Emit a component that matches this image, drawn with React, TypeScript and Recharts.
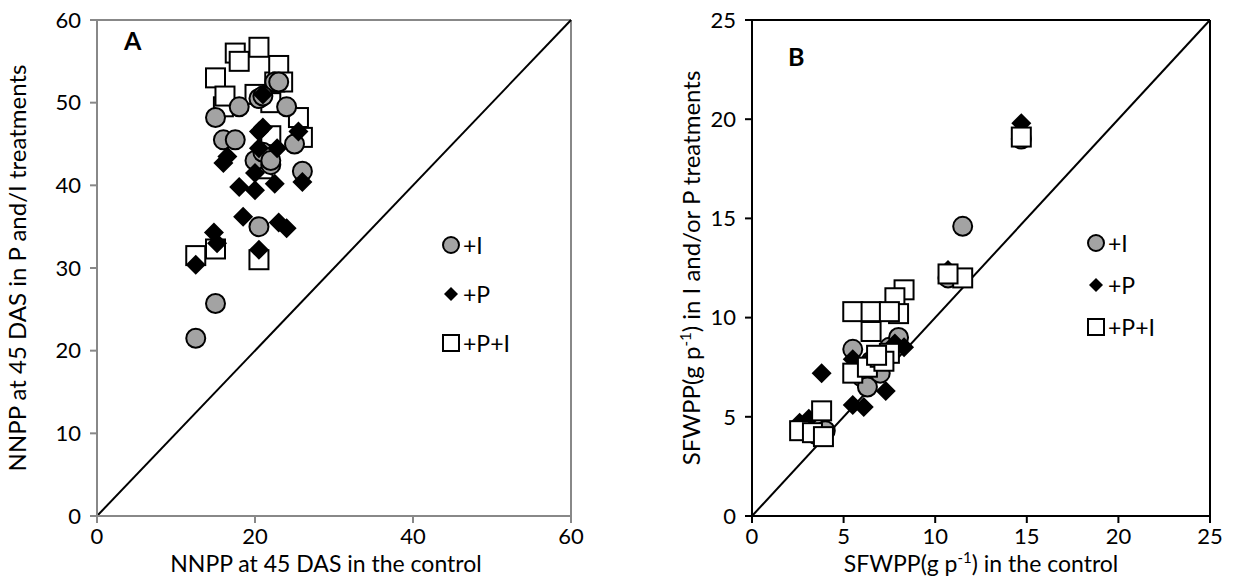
import React from "react";
import {
  ScatterChart,
  Scatter,
  XAxis,
  YAxis,
  ReferenceLine,
  Legend,
} from "recharts";

// ---------- Panel A data (NNPP at 45 DAS) ----------
const aIx = [12.5, 15, 15, 16, 17.5, 18, 20, 20.5, 20.5, 21, 22, 22.5, 23, 24, 25, 26, 21, 22];
const aIy = [21.5, 25.7, 48.2, 45.5, 45.5, 49.5, 43, 35, 50.5, 44, 42.5, 52.5, 52.5, 49.5, 45, 41.7, 50.8, 43];
const aPx = [12.5, 14.8, 15.2, 16, 16.5, 18, 18.5, 20, 20.5, 20.5, 21, 20.5, 22.5, 22.8, 23, 24, 25.5, 26, 21, 20];
const aPy = [30.4, 34.3, 33, 42.7, 43.5, 39.8, 36.2, 39.4, 32.2, 46.5, 51, 44.5, 40.2, 44.5, 35.5, 34.8, 46.5, 40.4, 47, 41.5];
const aPIx = [12.5, 15, 15, 16, 16.2, 17.5, 18, 20, 20.5, 20.5, 21, 22, 22.5, 23, 23.5, 25.5, 26, 22];
const aPIy = [31.5, 32.3, 53, 49.5, 50.8, 56, 55, 51, 56.7, 31, 42, 50, 52.5, 54.5, 52.5, 48.2, 45.8, 46];
const aTicksX = [0, 20, 40, 60];
const aTicksY = [0, 10, 20, 30, 40, 50, 60];

// ---------- Panel B data (SFWPP) ----------
const bIx = [14.7, 11.5, 10.7, 5.5, 6, 6.3, 7, 7.5, 8, 3, 3.5, 4, 6.5];
const bIy = [19, 14.6, 12, 8.4, 7, 6.5, 7.2, 8.5, 9, 4.3, 4.1, 4.3, 7.8];
const bPx = [14.7, 10.7, 11.5, 8.3, 7.3, 6.1, 5.5, 3.8, 2.6, 3.1, 5.5, 7.8, 6.5];
const bPy = [19.8, 12.4, 12, 8.5, 6.3, 5.5, 5.6, 7.2, 4.7, 4.9, 7.9, 8.7, 7.9];
const bPIx = [14.7, 11.5, 10.7, 8.3, 7.8, 8, 5.5, 6.5, 7.5, 6.5, 5.5, 6.3, 7, 7.5, 7.2, 3.8, 2.6, 3.3, 3.9, 6.8];
const bPIy = [19.1, 12, 12.2, 11.4, 11, 10.2, 10.3, 10.3, 10.3, 9.3, 7.2, 7.5, 8, 8.2, 7.8, 5.3, 4.3, 4.2, 4, 8.1];
const bTicks = [0, 5, 10, 15, 20, 25];

const seriesNames = ["+I", "+P", "+P+I"];

const zip = (xs: number[], ys: number[]) => xs.map((x, i) => ({ x, y: ys[i] }));

const FONT = 'Lato, "Open Sans", sans-serif';
const GRAYFILL = "#a3a3a3";
const LABEL_X = 23;
const LABEL_Y = 24;

const CircleShape = (p: any) => (
  <circle cx={p.cx} cy={p.cy} r={9.5} fill={GRAYFILL} stroke="#000" strokeWidth={2} />
);
const DiamondShape = (p: any) => {
  const r = 10;
  return (
    <polygon
      points={`${p.cx},${p.cy - r} ${p.cx + r},${p.cy} ${p.cx},${p.cy + r} ${p.cx - r},${p.cy}`}
      fill="#000"
    />
  );
};
const SquareShape = (p: any) => (
  <rect x={p.cx - 9.5} y={p.cy - 9.5} width={19} height={19} fill="#fff" stroke="#000" strokeWidth={2} />
);

const legendIcon = (i: number) => {
  if (i === 0) return <circle cx={10} cy={10} r={8} fill={GRAYFILL} stroke="#000" strokeWidth={2} />;
  if (i === 1) return <polygon points="10,3 17,10 10,17 3,10" fill="#000" />;
  return <rect x={2} y={2} width={16} height={16} fill="#fff" stroke="#000" strokeWidth={2} />;
};

const makeLegend = (gap: number) => () => (
  <div style={{ fontFamily: FONT, fontSize: 23, color: "#000" }}>
    {seriesNames.map((n, i) => (
      <div key={n} style={{ display: "flex", alignItems: "center", height: gap }}>
        <svg width={20} height={20} style={{ marginRight: 2 }}>
          {legendIcon(i)}
        </svg>
        <span>{n}</span>
      </div>
    ))}
  </div>
);

const tickStyle = { fontFamily: FONT, fontSize: 22, fill: "#000" };

export default function App() {
  const grayAx = "#888888";
  return (
    <div style={{ position: "absolute", left: 0, top: 0, width: 1237, height: 578, background: "#fff" }}>
      {/* Panel A */}
      <div style={{ position: "absolute", left: 0, top: 0 }}>
        <ScatterChart width={620} height={578} margin={{ top: 20, right: 49, bottom: 0, left: 37 }}>
          <XAxis
            type="number"
            dataKey="x"
            domain={[0, 60]}
            ticks={aTicksX}
            allowDataOverflow
            height={62}
            stroke={grayAx}
            strokeWidth={2}
            tickSize={7}
            tickMargin={5}
            tick={tickStyle}
            label={(props: any) => {
              const vb = props.viewBox;
              return (
                <text x={vb.x + vb.width / 2 - 8} y={vb.y + 56} textAnchor="middle" fontFamily={FONT} fontSize={LABEL_X} fill="#000">
                  NNPP at 45 DAS in the control
                </text>
              );
            }}
          />
          <YAxis
            type="number"
            dataKey="y"
            domain={[0, 60]}
            ticks={aTicksY}
            allowDataOverflow
            width={60}
            stroke={grayAx}
            strokeWidth={2}
            tickSize={7}
            tickMargin={9}
            tick={tickStyle}
            label={(props: any) => {
              const vb = props.viewBox;
              const cx = 26;
              const cy = vb.y + vb.height / 2;
              return (
                <text x={cx} y={cy} transform={`rotate(-90 ${cx} ${cy})`} textAnchor="middle" fontFamily={FONT} fontSize={LABEL_Y} fill="#000">
                  NNPP at 45 DAS in P and/I treatments
                </text>
              );
            }}
          />
          <ReferenceLine y={60} stroke={grayAx} strokeWidth={2} />
          <ReferenceLine x={60} stroke={grayAx} strokeWidth={2} />
          <ReferenceLine segment={[{ x: 0, y: 0 }, { x: 60, y: 60 }]} stroke="#000" strokeWidth={2} />
          <Scatter name="+P+I" data={zip(aPIx, aPIy)} shape={SquareShape} isAnimationActive={false} />
          <Scatter name="+I" data={zip(aIx, aIy)} shape={CircleShape} isAnimationActive={false} />
          <Scatter name="+P" data={zip(aPx, aPy)} shape={DiamondShape} isAnimationActive={false} />
          <Legend
            layout="vertical"
            align="center"
            verticalAlign="middle"
            content={makeLegend(49)}
            wrapperStyle={{ left: 441, top: 220, width: 110 }}
          />
        </ScatterChart>
        <div style={{ position: "absolute", left: 124, top: 25, fontFamily: FONT, fontWeight: 700, fontSize: 25 }}>A</div>
      </div>

      {/* Panel B */}
      <div style={{ position: "absolute", left: 620, top: 0 }}>
        <ScatterChart width={617} height={578} margin={{ top: 20, right: 27, bottom: 0, left: 72 }}>
          <XAxis
            type="number"
            dataKey="x"
            domain={[0, 25]}
            ticks={bTicks}
            allowDataOverflow
            height={62}
            stroke="#000"
            strokeWidth={2}
            tickSize={7}
            tickMargin={5}
            tick={tickStyle}
            label={(props: any) => {
              const vb = props.viewBox;
              return (
                <text x={vb.x + vb.width / 2} y={vb.y + 56} textAnchor="middle" fontFamily={FONT} fontSize={LABEL_X} fill="#000">
                  SFWPP(g p<tspan dy={-9} fontSize={15}>-1</tspan>
                  <tspan dy={9}>) in the control</tspan>
                </text>
              );
            }}
          />
          <YAxis
            type="number"
            dataKey="y"
            domain={[0, 25]}
            ticks={bTicks}
            allowDataOverflow
            width={60}
            stroke="#000"
            strokeWidth={2}
            tickSize={7}
            tickMargin={9}
            tick={tickStyle}
            label={(props: any) => {
              const vb = props.viewBox;
              const cx = 80;
              const cy = vb.y + vb.height / 2;
              return (
                <text x={cx} y={cy} transform={`rotate(-90 ${cx} ${cy})`} textAnchor="middle" fontFamily={FONT} fontSize={LABEL_Y} fill="#000">
                  SFWPP(g p<tspan dy={-9} fontSize={15}>-1</tspan>
                  <tspan dy={9}>) in I and/or P treatments</tspan>
                </text>
              );
            }}
          />
          <ReferenceLine y={25} stroke="#000" strokeWidth={2} />
          <ReferenceLine x={25} stroke="#000" strokeWidth={2} />
          <ReferenceLine segment={[{ x: 0, y: 0 }, { x: 25, y: 25 }]} stroke="#000" strokeWidth={2} />
          <Scatter name="+I" data={zip(bIx, bIy)} shape={CircleShape} isAnimationActive={false} />
          <Scatter name="+P" data={zip(bPx, bPy)} shape={DiamondShape} isAnimationActive={false} />
          <Scatter name="+P+I" data={zip(bPIx, bPIy)} shape={SquareShape} isAnimationActive={false} />
          <Legend
            layout="vertical"
            align="center"
            verticalAlign="middle"
            content={makeLegend(42)}
            wrapperStyle={{ left: 466, top: 222, width: 110 }}
          />
        </ScatterChart>
        <div style={{ position: "absolute", left: 168, top: 41, fontFamily: FONT, fontWeight: 700, fontSize: 25 }}>B</div>
      </div>
    </div>
  );
}
